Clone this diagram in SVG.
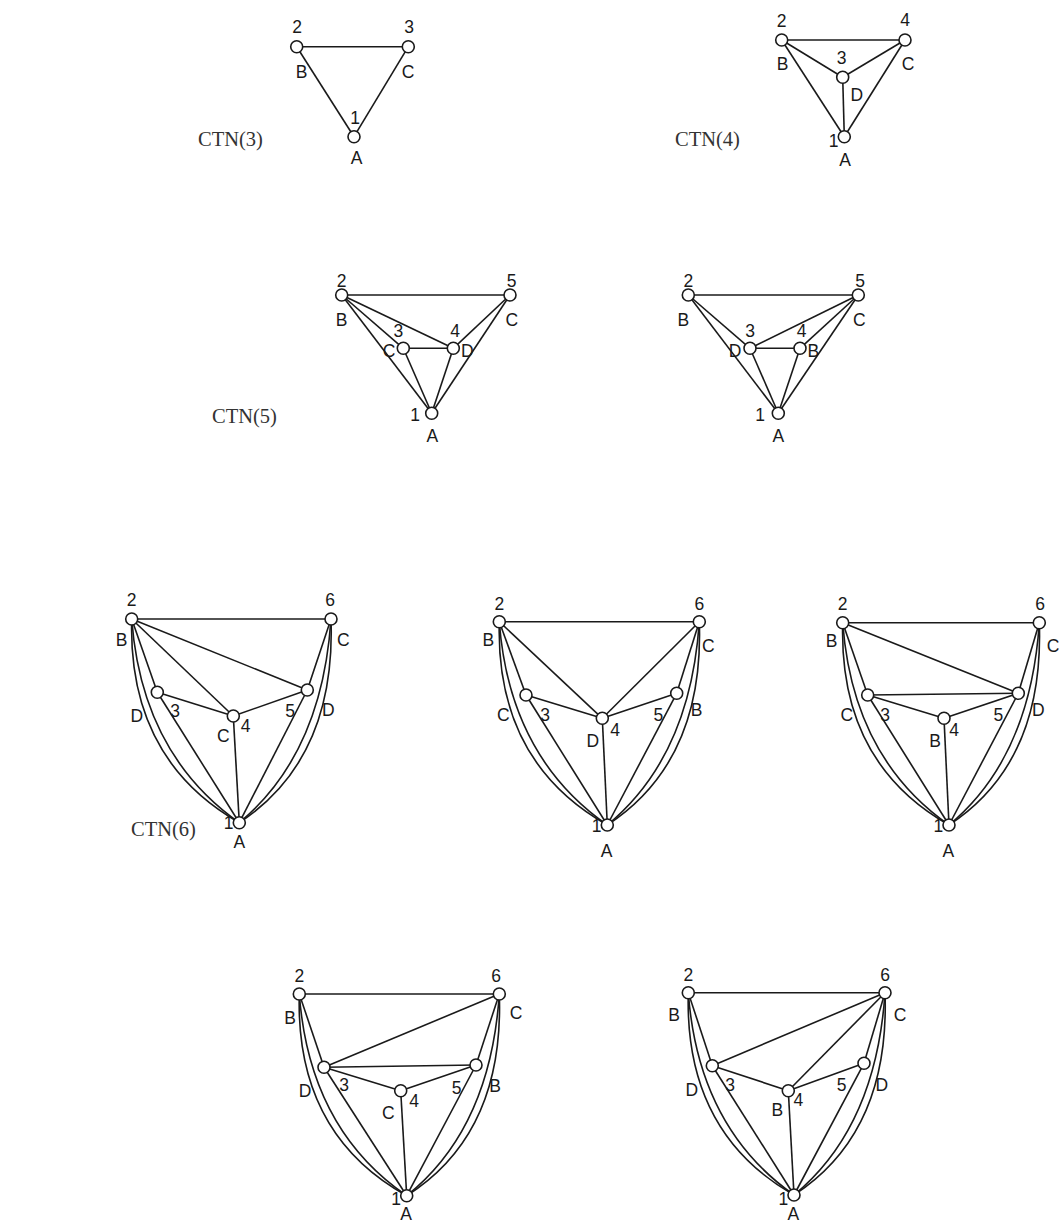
<svg xmlns="http://www.w3.org/2000/svg" width="1062" height="1225" viewBox="0 0 1062 1225">
<style>
.e line, .e path { stroke: #1a1a1a; stroke-width: 1.6; fill: none; }
.n circle { fill: #fff; stroke: #1a1a1a; stroke-width: 1.6; }
.n text { font-family: "Liberation Sans", Arial, sans-serif; font-size: 17.5px; fill: #1a1a1a; text-anchor: middle; }
.n text.r { text-anchor: end; }
.t { font-family: "Liberation Serif", "Times New Roman", serif; font-size: 20.5px; fill: #333; }
</style>
<rect width="1062" height="1225" fill="#fff"/>

<!-- CTN(3) -->
<text class="t" x="198" y="146">CTN(3)</text>
<g id="ctn3">
  <g id="ctn3-edges" class="e">
    <line x1="296.7" y1="46.7" x2="408.3" y2="46.7"/>
    <line x1="296.7" y1="46.7" x2="354" y2="136.7"/>
    <line x1="408.3" y1="46.7" x2="354" y2="136.7"/>
  </g>
  <g id="ctn3-n1" class="n"><circle cx="354" cy="136.7" r="6"/><text x="355" y="123.5">1</text><text x="356.7" y="163.5">A</text></g>
  <g id="ctn3-n2" class="n"><circle cx="296.7" cy="46.7" r="6"/><text x="297" y="32.5">2</text><text x="301.7" y="77.5">B</text></g>
  <g id="ctn3-n3" class="n"><circle cx="408.3" cy="46.7" r="6"/><text x="409" y="32.5">3</text><text x="408" y="77.5">C</text></g>
</g>

<!-- CTN(4) -->
<text class="t" x="675" y="146">CTN(4)</text>
<g id="ctn4">
  <g id="ctn4-edges" class="e">
    <line x1="781.7" y1="40" x2="905" y2="40"/>
    <line x1="781.7" y1="40" x2="842.7" y2="77.3"/>
    <line x1="905" y1="40" x2="842.7" y2="77.3"/>
    <line x1="781.7" y1="40" x2="844.3" y2="136.7"/>
    <line x1="842.7" y1="77.3" x2="844.3" y2="136.7"/>
    <line x1="905" y1="40" x2="844.3" y2="136.7"/>
  </g>
  <g id="ctn4-n1" class="n"><circle cx="844.3" cy="136.7" r="6"/><text class="r" x="838.5" y="146.7">1</text><text x="845" y="165.5">A</text></g>
  <g id="ctn4-n2" class="n"><circle cx="781.7" cy="40" r="6"/><text x="781.7" y="26.7">2</text><text x="782.7" y="69.5">B</text></g>
  <g id="ctn4-n3" class="n"><circle cx="842.7" cy="77.3" r="6"/><text x="841.7" y="63.5">3</text><text x="856.7" y="100.5">D</text></g>
  <g id="ctn4-n4" class="n"><circle cx="905" cy="40" r="6"/><text x="905" y="25.5">4</text><text x="908" y="69.5">C</text></g>
</g>

<!-- CTN(5) -->
<text class="t" x="212" y="423">CTN(5)</text>
<g id="ctn5a">
  <g id="ctn5a-edges" class="e">
    <line x1="341.7" y1="295" x2="510" y2="295"/>
    <line x1="341.7" y1="295" x2="403.3" y2="348.3"/>
    <line x1="341.7" y1="295" x2="453.3" y2="348.3"/>
    <line x1="341.7" y1="295" x2="431.7" y2="413.3"/>
    <line x1="403.3" y1="348.3" x2="453.3" y2="348.3"/>
    <line x1="403.3" y1="348.3" x2="431.7" y2="413.3"/>
    <line x1="453.3" y1="348.3" x2="431.7" y2="413.3"/>
    <line x1="453.3" y1="348.3" x2="510" y2="295"/>
    <line x1="510" y1="295" x2="431.7" y2="413.3"/>
  </g>
  <g id="ctn5a-n1" class="n"><circle cx="431.7" cy="413.3" r="6"/><text class="r" x="420" y="420.5">1</text><text x="432.3" y="442">A</text></g>
  <g id="ctn5a-n2" class="n"><circle cx="341.7" cy="295" r="6"/><text x="341.7" y="287">2</text><text x="341.7" y="325.5">B</text></g>
  <g id="ctn5a-n3" class="n"><circle cx="403.3" cy="348.3" r="6"/><text x="398.3" y="337">3</text><text x="389" y="357">C</text></g>
  <g id="ctn5a-n4" class="n"><circle cx="453.3" cy="348.3" r="6"/><text x="455" y="337">4</text><text x="467.3" y="357">D</text></g>
  <g id="ctn5a-n5" class="n"><circle cx="510" cy="295" r="6"/><text x="511.7" y="287">5</text><text x="511.7" y="325.5">C</text></g>
</g>
<g id="ctn5b">
  <g id="ctn5b-edges" class="e">
    <line x1="688.3" y1="295" x2="858.3" y2="295"/>
    <line x1="688.3" y1="295" x2="750" y2="348.3"/>
    <line x1="688.3" y1="295" x2="778.3" y2="413.3"/>
    <line x1="858.3" y1="295" x2="750" y2="348.3"/>
    <line x1="858.3" y1="295" x2="800" y2="348.3"/>
    <line x1="858.3" y1="295" x2="778.3" y2="413.3"/>
    <line x1="750" y1="348.3" x2="800" y2="348.3"/>
    <line x1="750" y1="348.3" x2="778.3" y2="413.3"/>
    <line x1="800" y1="348.3" x2="778.3" y2="413.3"/>
  </g>
  <g id="ctn5b-n1" class="n"><circle cx="778.3" cy="413.3" r="6"/><text class="r" x="765" y="420.5">1</text><text x="778.3" y="442">A</text></g>
  <g id="ctn5b-n2" class="n"><circle cx="688.3" cy="295" r="6"/><text x="688.3" y="287">2</text><text x="683.3" y="325.5">B</text></g>
  <g id="ctn5b-n3" class="n"><circle cx="750" cy="348.3" r="6"/><text x="750" y="337">3</text><text x="735" y="357">D</text></g>
  <g id="ctn5b-n4" class="n"><circle cx="800" cy="348.3" r="6"/><text x="801.7" y="337">4</text><text x="813.3" y="357">B</text></g>
  <g id="ctn5b-n5" class="n"><circle cx="858.3" cy="295" r="6"/><text x="860" y="287">5</text><text x="859.3" y="325.5">C</text></g>
</g>

<!-- CTN(6) -->
<text class="t" x="131" y="836">CTN(6)</text>
<g id="ctn6a">
  <g id="ctn6a-edges" class="e">
    <line x1="131.7" y1="619" x2="331" y2="619"/>
    <line x1="131.7" y1="619" x2="157.3" y2="692.3"/>
    <line x1="131.7" y1="619" x2="233.3" y2="716"/>
    <line x1="131.7" y1="619" x2="307.3" y2="690"/>
    <line x1="157.3" y1="692.3" x2="233.3" y2="716"/>
    <line x1="157.3" y1="692.3" x2="239.3" y2="822.7"/>
    <line x1="233.3" y1="716" x2="307.3" y2="690"/>
    <line x1="233.3" y1="716" x2="239.3" y2="822.7"/>
    <line x1="307.3" y1="690" x2="331" y2="619"/>
    <line x1="307.3" y1="690" x2="239.3" y2="822.7"/>
    <path d="M131.7,619 Q127.7,759 239.3,822.7"/>
    <path d="M131.7,619 Q141.7,754 239.3,822.7"/>
    <path d="M331,619 Q336,759 239.3,822.7"/>
    <path d="M331,619 Q322,754 239.3,822.7"/>
  </g>
  <g id="ctn6a-n1" class="n"><circle cx="239.3" cy="822.7" r="6"/><text class="r" x="233.5" y="829">1</text><text x="239.3" y="847.5">A</text></g>
  <g id="ctn6a-n2" class="n"><circle cx="131.7" cy="619" r="6"/><text x="131.7" y="605.5">2</text><text x="121.7" y="645.5">B</text></g>
  <g id="ctn6a-n3" class="n"><circle cx="157.3" cy="692.3" r="6"/><text x="175" y="716.5">3</text><text x="136.7" y="722">D</text></g>
  <g id="ctn6a-n4" class="n"><circle cx="233.3" cy="716" r="6"/><text x="245.7" y="732">4</text><text x="223.3" y="742">C</text></g>
  <g id="ctn6a-n5" class="n"><circle cx="307.3" cy="690" r="6"/><text x="290" y="716.5">5</text><text x="328.3" y="715.5">D</text></g>
  <g id="ctn6a-n6" class="n"><circle cx="331" cy="619" r="6"/><text x="330" y="605.5">6</text><text x="343.3" y="645.5">C</text></g>
</g>

<g id="ctn6b">
  <g id="ctn6b-edges" class="e">
    <line x1="499.3" y1="621.7" x2="699.3" y2="621.7"/>
    <line x1="499.3" y1="621.7" x2="526" y2="695"/>
    <line x1="499.3" y1="621.7" x2="602.3" y2="718.3"/>
    <line x1="699.3" y1="621.7" x2="602.3" y2="718.3"/>
    <line x1="699.3" y1="621.7" x2="676.7" y2="693.3"/>
    <line x1="526" y1="695" x2="602.3" y2="718.3"/>
    <line x1="602.3" y1="718.3" x2="676.7" y2="693.3"/>
    <line x1="526" y1="695" x2="607.3" y2="825"/>
    <line x1="602.3" y1="718.3" x2="607.3" y2="825"/>
    <line x1="676.7" y1="693.3" x2="607.3" y2="825"/>
    <path d="M499.3,621.7 Q495.3,761.7 607.3,825"/>
    <path d="M499.3,621.7 Q509.3,756.7 607.3,825"/>
    <path d="M699.3,621.7 Q704.3,761.7 607.3,825"/>
    <path d="M699.3,621.7 Q690.3,756.7 607.3,825"/>
  </g>
  <g id="ctn6b-n1" class="n"><circle cx="607.3" cy="825" r="6"/><text class="r" x="601.5" y="831.5">1</text><text x="606.7" y="857">A</text></g>
  <g id="ctn6b-n2" class="n"><circle cx="499.3" cy="621.7" r="6"/><text x="499.3" y="610">2</text><text x="488.3" y="645.5">B</text></g>
  <g id="ctn6b-n3" class="n"><circle cx="526" cy="695" r="6"/><text x="545" y="720.5">3</text><text x="503.3" y="720.5">C</text></g>
  <g id="ctn6b-n4" class="n"><circle cx="602.3" cy="718.3" r="6"/><text x="615" y="735.5">4</text><text x="592.7" y="747">D</text></g>
  <g id="ctn6b-n5" class="n"><circle cx="676.7" cy="693.3" r="6"/><text x="658.3" y="720.5">5</text><text x="696.7" y="715.5">B</text></g>
  <g id="ctn6b-n6" class="n"><circle cx="699.3" cy="621.7" r="6"/><text x="699.3" y="610">6</text><text x="708.3" y="652">C</text></g>
</g>

<g id="ctn6c">
  <g id="ctn6c-edges" class="e">
    <line x1="842.7" y1="622.7" x2="1039.3" y2="622.7"/>
    <line x1="842.7" y1="622.7" x2="1018.3" y2="693.3"/>
    <line x1="842.7" y1="622.7" x2="867.7" y2="695"/>
    <line x1="867.7" y1="695" x2="1018.3" y2="693.3"/>
    <line x1="867.7" y1="695" x2="944" y2="718.3"/>
    <line x1="944" y1="718.3" x2="1018.3" y2="693.3"/>
    <line x1="1018.3" y1="693.3" x2="1039.3" y2="622.7"/>
    <line x1="867.7" y1="695" x2="949" y2="825"/>
    <line x1="944" y1="718.3" x2="949" y2="825"/>
    <line x1="1018.3" y1="693.3" x2="949" y2="825"/>
    <path d="M842.7,622.7 Q838.7,762.7 949,825"/>
    <path d="M842.7,622.7 Q852.7,757.7 949,825"/>
    <path d="M1039.3,622.7 Q1044.3,762.7 949,825"/>
    <path d="M1039.3,622.7 Q1030.3,757.7 949,825"/>
  </g>
  <g id="ctn6c-n1" class="n"><circle cx="949" cy="825" r="6"/><text class="r" x="943.2" y="831.5">1</text><text x="948.3" y="857">A</text></g>
  <g id="ctn6c-n2" class="n"><circle cx="842.7" cy="622.7" r="6"/><text x="842.7" y="610">2</text><text x="831.7" y="647">B</text></g>
  <g id="ctn6c-n3" class="n"><circle cx="867.7" cy="695" r="6"/><text x="885" y="720.5">3</text><text x="846.7" y="720.5">C</text></g>
  <g id="ctn6c-n4" class="n"><circle cx="944" cy="718.3" r="6"/><text x="954" y="735.5">4</text><text x="935" y="747">B</text></g>
  <g id="ctn6c-n5" class="n"><circle cx="1018.3" cy="693.3" r="6"/><text x="998.3" y="720.5">5</text><text x="1038.3" y="715.5">D</text></g>
  <g id="ctn6c-n6" class="n"><circle cx="1039.3" cy="622.7" r="6"/><text x="1040" y="610">6</text><text x="1053" y="652">C</text></g>
</g>

<g id="ctn6d">
  <g id="ctn6d-edges" class="e">
    <line x1="299.3" y1="994" x2="499.3" y2="994"/>
    <line x1="499.3" y1="994" x2="324" y2="1067.3"/>
    <line x1="299.3" y1="994" x2="324" y2="1067.3"/>
    <line x1="324" y1="1067.3" x2="476" y2="1065"/>
    <line x1="324" y1="1067.3" x2="400.7" y2="1090.7"/>
    <line x1="400.7" y1="1090.7" x2="476" y2="1065"/>
    <line x1="476" y1="1065" x2="499.3" y2="994"/>
    <line x1="324" y1="1067.3" x2="406.7" y2="1195.7"/>
    <line x1="400.7" y1="1090.7" x2="406.7" y2="1195.7"/>
    <line x1="476" y1="1065" x2="406.7" y2="1195.7"/>
    <path d="M299.3,994 Q295.3,1134 406.7,1195.7"/>
    <path d="M299.3,994 Q309.3,1129 406.7,1195.7"/>
    <path d="M499.3,994 Q504.3,1134 406.7,1195.7"/>
    <path d="M499.3,994 Q490.3,1129 406.7,1195.7"/>
  </g>
  <g id="ctn6d-n1" class="n"><circle cx="406.7" cy="1195.7" r="6"/><text class="r" x="400.9" y="1205">1</text><text x="406" y="1220">A</text></g>
  <g id="ctn6d-n2" class="n"><circle cx="299.3" cy="994" r="6"/><text x="299.3" y="982">2</text><text x="290" y="1023.5">B</text></g>
  <g id="ctn6d-n3" class="n"><circle cx="324" cy="1067.3" r="6"/><text x="344" y="1090.5">3</text><text x="305" y="1097">D</text></g>
  <g id="ctn6d-n4" class="n"><circle cx="400.7" cy="1090.7" r="6"/><text x="414" y="1107">4</text><text x="388.3" y="1118.5">C</text></g>
  <g id="ctn6d-n5" class="n"><circle cx="476" cy="1065" r="6"/><text x="456.7" y="1093.5">5</text><text x="495" y="1092">B</text></g>
  <g id="ctn6d-n6" class="n"><circle cx="499.3" cy="994" r="6"/><text x="496" y="982">6</text><text x="516" y="1018.5">C</text></g>
</g>

<g id="ctn6e">
  <g id="ctn6e-edges" class="e">
    <line x1="688.3" y1="992.7" x2="885" y2="992.7"/>
    <line x1="885" y1="992.7" x2="712.3" y2="1065.7"/>
    <line x1="885" y1="992.7" x2="788.3" y2="1090.7"/>
    <line x1="885" y1="992.7" x2="864" y2="1063.3"/>
    <line x1="688.3" y1="992.7" x2="712.3" y2="1065.7"/>
    <line x1="712.3" y1="1065.7" x2="788.3" y2="1090.7"/>
    <line x1="788.3" y1="1090.7" x2="864" y2="1063.3"/>
    <line x1="712.3" y1="1065.7" x2="794" y2="1195"/>
    <line x1="788.3" y1="1090.7" x2="794" y2="1195"/>
    <line x1="864" y1="1063.3" x2="794" y2="1195"/>
    <path d="M688.3,992.7 Q684.3,1132.7 794,1195"/>
    <path d="M688.3,992.7 Q698.3,1127.7 794,1195"/>
    <path d="M885,992.7 Q890,1132.7 794,1195"/>
    <path d="M885,992.7 Q876,1127.7 794,1195"/>
  </g>
  <g id="ctn6e-n1" class="n"><circle cx="794" cy="1195" r="6"/><text class="r" x="788.2" y="1205">1</text><text x="793.3" y="1220">A</text></g>
  <g id="ctn6e-n2" class="n"><circle cx="688.3" cy="992.7" r="6"/><text x="688.3" y="980.5">2</text><text x="674" y="1021">B</text></g>
  <g id="ctn6e-n3" class="n"><circle cx="712.3" cy="1065.7" r="6"/><text x="730" y="1090.5">3</text><text x="691.7" y="1095.5">D</text></g>
  <g id="ctn6e-n4" class="n"><circle cx="788.3" cy="1090.7" r="6"/><text x="798.3" y="1105.5">4</text><text x="777.3" y="1115.5">B</text></g>
  <g id="ctn6e-n5" class="n"><circle cx="864" cy="1063.3" r="6"/><text x="841.7" y="1090.5">5</text><text x="881.7" y="1090.5">D</text></g>
  <g id="ctn6e-n6" class="n"><circle cx="885" cy="992.7" r="6"/><text x="885" y="980.5">6</text><text x="900" y="1020.5">C</text></g>
</g>
</svg>
